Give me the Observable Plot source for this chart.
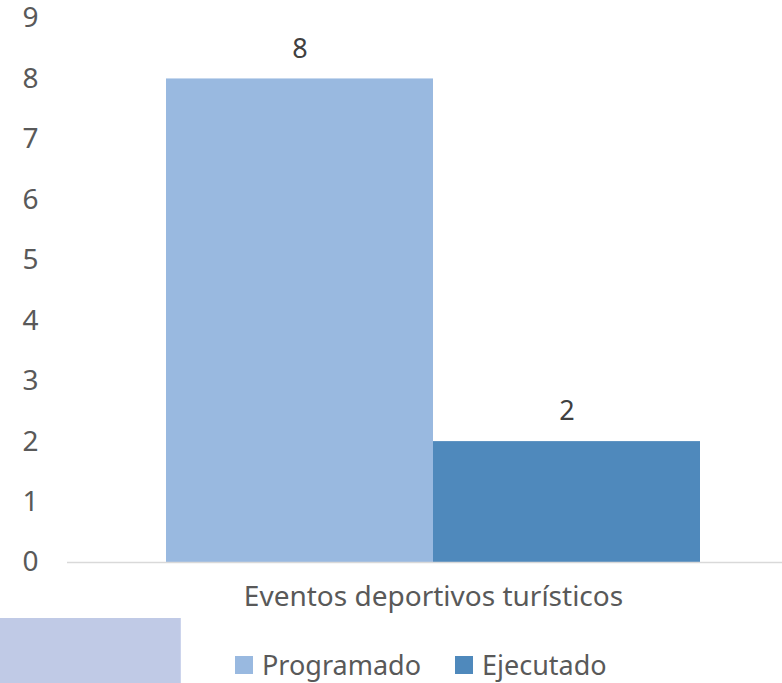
<!DOCTYPE html>
<html>
<head>
<meta charset="utf-8">
<script src="https://cdn.jsdelivr.net/npm/d3@7"></script>
<script src="https://cdn.jsdelivr.net/npm/@observablehq/plot@0.6"></script>
<style>
  html, body { margin: 0; padding: 0; background: #fff; overflow: hidden; }
  body { width: 782px; height: 683px; position: relative; font-family: "Noto Sans", sans-serif; }
  #chart svg { display: block; }
  #legend { position: absolute; left: 235px; top: 646px; display: flex; align-items: center; font-size: 27px; color: #595959; }
  .item { display: flex; align-items: center; margin-right: 34px; }
  .sw { width: 18px; height: 18px; margin-right: 9px; }
  #patch { position: absolute; left: 0; top: 618px; width: 180px; height: 65px; background: #c0cae6; border-right: 1px solid #ccd4ec; }
</style>
</head>
<body>
<div id="chart"></div>
<div id="patch"></div>
<div id="legend"></div>
<script>
const categories = ["Eventos deportivos turísticos"];
const series = ["Programado", "Ejecutado"];
const values = [8, 2];
const colors = ["#99b9e0", "#4f89bc"];
const yTicks = [0, 1, 2, 3, 4, 5, 6, 7, 8, 9];

const data = series.map((s, i) => ({category: categories[0], series: s, value: values[i]}));

const chart = Plot.plot({
  width: 782,
  height: 635,
  marginLeft: 67,
  marginRight: -17,
  marginTop: 18,
  marginBottom: 73,
  style: {fontFamily: "Noto Sans, sans-serif", background: "#fff"},
  x: {domain: series, range: [166, 700], padding: 0, axis: null},
  y: {domain: [0, 9], ticks: yTicks},
  color: {domain: series, range: colors},
  marks: [
    Plot.barY(data, {x: "series", y: "value", fill: "series"}),
    Plot.ruleY([0], {stroke: "#d9d9d9", strokeWidth: 1.5}),
    Plot.axisY({ticks: yTicks, tickSize: 0, tickPadding: 29, fontSize: 28, color: "#595959", fill: "#595959", label: null}),
    Plot.text(data, {x: "series", y: "value", text: d => String(d.value), dy: -30, fontSize: 27, fill: "#404040"}),
    Plot.text(categories, {frameAnchor: "bottom", text: d => d, dy: 43, fontSize: 28, fill: "#595959"})
  ]
});
document.getElementById("chart").appendChild(chart);

const legend = document.getElementById("legend");
series.forEach((s, i) => {
  const item = document.createElement("div");
  item.className = "item";
  const sw = document.createElement("div");
  sw.className = "sw";
  sw.style.background = colors[i];
  const label = document.createElement("span");
  label.textContent = s;
  item.appendChild(sw);
  item.appendChild(label);
  legend.appendChild(item);
});
</script>
</body>
</html>
